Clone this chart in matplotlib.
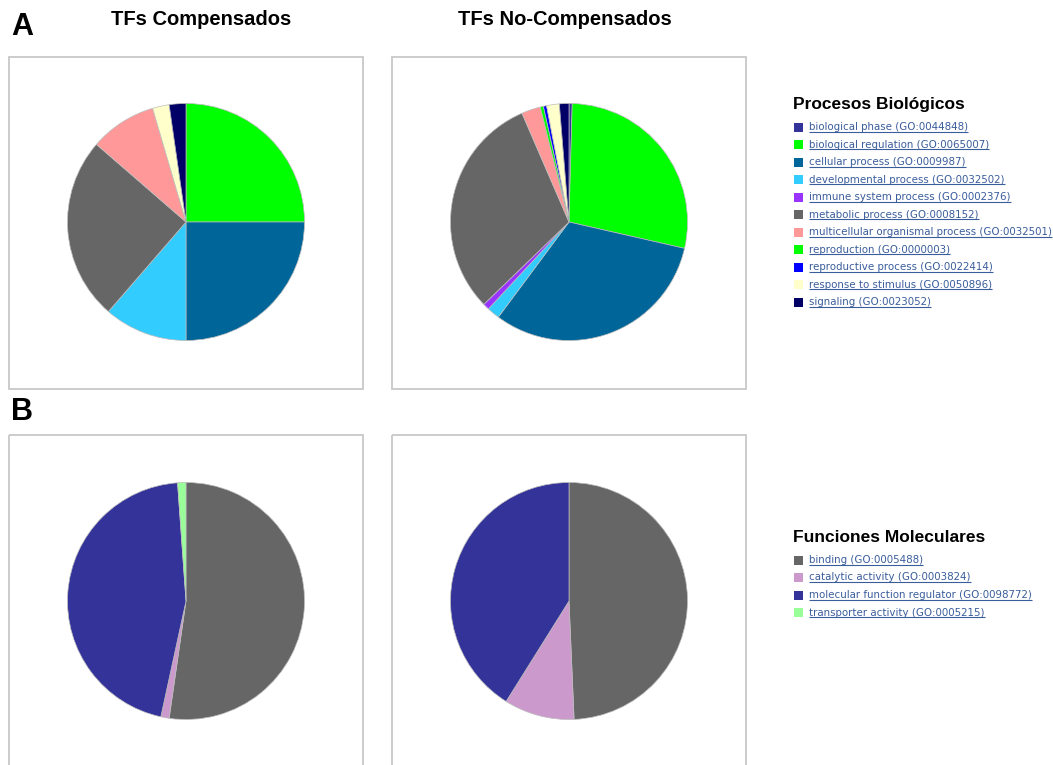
import matplotlib
matplotlib.use('Agg')
import matplotlib.pyplot as plt
from matplotlib.patches import Rectangle

W, H = 1053, 765

# GO biological process categories (PANTHER colours)
bp_labels = ['biological phase (GO:0044848)',
             'biological regulation (GO:0065007)',
             'cellular process (GO:0009987)',
             'developmental process (GO:0032502)',
             'immune system process (GO:0002376)',
             'metabolic process (GO:0008152)',
             'multicellular organismal process (GO:0032501)',
             'reproduction (GO:0000003)',
             'reproductive process (GO:0022414)',
             'response to stimulus (GO:0050896)',
             'signaling (GO:0023052)']
bp_colors = ['#333399', '#00ff00', '#006699', '#33ccff', '#9933ff', '#666666',
             '#ff9999', '#00ff00', '#0000ff', '#ffffcc', '#000066']
bp_comp = [0, 11, 11, 5, 0, 11, 4, 0, 0, 1, 1]
bp_nocomp = [1, 65, 73, 4, 2, 71, 6, 1, 1, 4, 3]

# GO molecular function categories
mf_labels = ['binding (GO:0005488)',
             'catalytic activity (GO:0003824)',
             'molecular function regulator (GO:0098772)',
             'transporter activity (GO:0005215)']
mf_colors = ['#666666', '#cc99cc', '#333399', '#99ff99']
mf_comp = [46, 1, 40, 1]
mf_nocomp = [36, 7, 30, 0]

titles = ['TFs Compensados', 'TFs No-Compensados']

link_color = '#3a5d9c'

fig = plt.figure(figsize=(W / 100, H / 100), dpi=100)
fig.patch.set_facecolor('white')

# overlay in pixel coordinates for boxes, labels and legends
ov = fig.add_axes([0, 0, 1, 1])
ov.set_xlim(0, W)
ov.set_ylim(H, 0)
ov.axis('off')


def px_axes(x, y, w, h):
    return fig.add_axes([x / W, 1 - (y + h) / H, w / W, h / H])


def draw_pie(cx, cy, vals, colors, r=118.5):
    pad = 1.02
    ax = px_axes(cx - r * pad, cy - r * pad, 2 * r * pad, 2 * r * pad)
    ax.set_facecolor('none')
    keep = [(v, c) for v, c in zip(vals, colors) if v > 0]
    ax.pie([v for v, c in keep], colors=[c for v, c in keep],
           startangle=90, counterclock=False, radius=1,
           wedgeprops=dict(edgecolor='#bcbcbc', linewidth=0.5))
    ax.set_xlim(-pad, pad)
    ax.set_ylim(-pad, pad)
    ax.set_aspect('equal')
    ax.axis('off')


# panel frames
for x0 in (9, 392):
    ov.add_patch(Rectangle((x0, 56.5), 354, 332.5, fill=False,
                           edgecolor='#c8c8c8', linewidth=1.3))
    ov.add_patch(Rectangle((x0, 435), 354, 340, fill=False,
                           edgecolor='#c8c8c8', linewidth=1.3))

# panel letters and column titles
ov.text(22, 27, 'A', fontsize=22, fontweight='bold', family='Liberation Sans',
        ha='center', va='center')
ov.text(22, 412, 'B', fontsize=22, fontweight='bold', family='Liberation Sans',
        ha='center', va='center')
for xc, t in zip((201, 565), titles):
    ov.text(xc, 19.5, t, fontsize=14.5, fontweight='bold',
            family='Liberation Sans', ha='center', va='center')

draw_pie(186, 222, bp_comp, bp_colors)
draw_pie(569, 222, bp_nocomp, bp_colors)
draw_pie(186, 601, mf_comp, mf_colors)
draw_pie(569, 601, mf_nocomp, mf_colors)


def draw_legend(header, y_head, y0, labels, colors):
    ov.text(793, y_head, header, fontsize=12.5, fontweight='bold',
            family='Liberation Sans', ha='left', va='center')
    items = []
    for i, (lab, col) in enumerate(zip(labels, colors)):
        y = y0 + i * 17.5
        ov.add_patch(Rectangle((794, y - 4.5), 9, 9, facecolor=col,
                               edgecolor='none'))
        t = ov.text(809, y, lab, fontsize=7.35, family='DejaVu Sans',
                    color=link_color, ha='left', va='center')
        items.append((t, y))
    return items


links = draw_legend('Procesos Biológicos', 104.5, 127, bp_labels, bp_colors)
links += draw_legend('Funciones Moleculares', 538, 560, mf_labels, mf_colors)

# underline the link-style legend entries
fig.canvas.draw()
renderer = fig.canvas.get_renderer()
inv = ov.transData.inverted()
for t, y in links:
    bb = t.get_window_extent(renderer)
    (xa, _), (xb, _) = inv.transform([(bb.x0, bb.y0), (bb.x1, bb.y1)])
    ov.plot([xa, xb], [y + 4.8, y + 4.8], color=link_color, linewidth=0.8,
            solid_capstyle='butt')

fig.savefig('out.png', dpi=100, facecolor='white')
